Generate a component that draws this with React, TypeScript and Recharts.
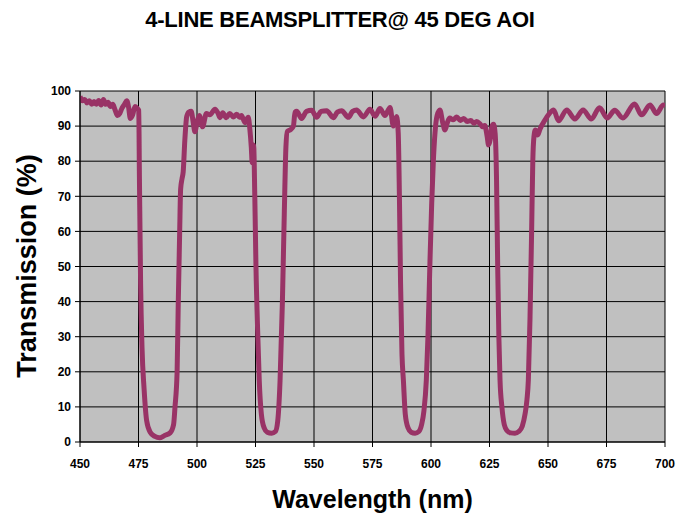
import React from 'react';
import { LineChart, Line, XAxis, YAxis, CartesianGrid } from 'recharts';

const wavelengths: number[] = [
  450, 451, 452, 453, 454, 455, 456, 457, 458, 459, 460, 461, 462, 463, 464, 465, 466, 467, 468, 469, 470,
  470.8, 471.5, 472.5, 473.5, 474.5, 475.1,
  475.4, 475.9, 476.5, 477.4, 478.5, 480, 482, 484, 486, 488.5, 490, 490.6, 491.5, 492, 492.6, 493, 493.6,
  494.1, 494.8, 495.6, 496.5, 497.5, 498.4, 499.1,
  500, 501, 502.4, 504, 505.5, 507.7, 509, 509.8, 511, 512.5, 514, 515.5, 517, 518.2, 519, 520.5, 521.9,
  522.6, 523.2, 523.6, 524.2,
  524.7, 525.2, 526, 526.6, 527.5, 528.7, 530, 531.9, 533.5, 534.5, 535.5, 536.5, 537.3, 538, 538.6, 540,
  541.2, 541.9,
  542.6, 544.7, 546.8, 549, 551.1, 553, 555.4, 558.3, 560, 561.8, 564.7, 566.5, 568.2, 571.1, 573.9, 576.1,
  578.2, 580.3, 582.5, 583.9, 585.3,
  586, 586.5, 587, 587.6, 588.2, 589, 590.2, 591.5, 593.2, 594.8, 596, 597, 598, 598.7, 599.5, 600.3, 601,
  601.7, 602.6, 603.8, 605, 606, 607, 608, 609.5, 611, 612.5, 614, 615.5, 617, 618.3, 619.5, 621, 622, 623,
  624, 624.6, 625.4, 626, 626.7, 627.4,
  628, 628.5, 629, 629.5, 630.3, 631.3, 632.5, 634, 635.9, 637.5, 639, 640.2, 641, 641.6, 642.3, 643, 643.5,
  644, 644.6, 645.6, 646.6, 648.5, 650.5, 652.4, 654.5, 658, 661.5, 665, 668.5, 672, 675.3, 678.5, 682, 687,
  690, 693.6, 696.4, 699.3, 700,
];

const transmission: number[] = [
  98.5, 97.2, 97.6, 96.6, 97.2, 96.2, 97.0, 96.2, 97.3, 96.0, 97.6, 96.2, 96.8, 95.6, 96.2, 94.6, 93.0, 93.6, 95.2, 96.2, 97.2,
  95.2, 92.2, 93.2, 95.6, 95.0, 94.5,
  75, 45, 27, 15, 6, 2.8, 1.6, 1.2, 1.8, 2.6, 5, 10, 20, 40, 60, 72, 75,
  77, 86, 92.7, 94, 94.2, 91, 88.4,
  91, 93, 89.8, 93.6, 93.2, 94.8, 93.6, 92.4, 93.8, 92.4, 93.6, 92.6, 93.4, 92.5, 93.0, 91.0, 92.5,
  89, 84, 79.5, 84.6,
  70, 50, 30, 17.6, 8, 4, 2.8, 2.5, 3, 6, 17.6, 40, 65, 84, 88.5, 89,
  90, 94,
  94.2, 92.2, 94.2, 94.5, 92.5, 94.2, 94.4, 92.4, 94.0, 94.4, 92.5, 94.2, 94.6, 92.6, 94.8, 92.8,
  95.0, 93.0, 95.3, 90.0, 92.7,
  88, 70, 45, 25, 17.6, 8, 4, 2.8, 2.5, 3, 5, 9, 17.6, 30, 50, 68, 80,
  88, 93, 94.6, 91, 88.9, 91, 92.3, 91.8, 92.6, 91.6, 92.2, 91.3, 91.6, 90.8, 91.3, 90.6, 89.8, 90.2,
  87, 84.6, 86.5, 89.8, 90.5, 88,
  75, 50, 30, 17.6, 10, 5, 3.2, 2.6, 2.5, 3, 4.5, 8, 12, 17.6, 35, 60, 80,
  87, 88.9, 87.5, 89.2, 91.5, 93.5, 94.6, 91.5, 94.6, 92.0, 94.6, 92.0, 95.2, 92.3, 94.5, 92.3, 96.3,
  93.2, 96, 93.6, 96, 95.5,
];

const xTicks: number[] = [450, 475, 500, 525, 550, 575, 600, 625, 650, 675, 700];
const yTicks: number[] = [0, 10, 20, 30, 40, 50, 60, 70, 80, 90, 100];

const titleText = '4-LINE BEAMSPLITTER@ 45 DEG AOI';
const xLabel = 'Wavelength (nm)';
const yLabel = 'Transmission (%)';

const data = wavelengths.map((w, i) => ({ w, t: transmission[i] }));

const FONT = '"Liberation Sans", Arial, sans-serif';

export default function App() {
  return (
    <div style={{ position: 'absolute', left: 0, top: 0, width: 687, height: 518, background: '#fff', fontFamily: FONT }}>
      <div
        style={{
          position: 'absolute',
          left: 0,
          width: 680,
          top: 7,
          textAlign: 'center',
          fontWeight: 'bold',
          fontSize: 22,
          letterSpacing: -0.25,
          lineHeight: '26px',
          color: '#000',
        }}
      >
        {titleText}
      </div>
      <LineChart
        width={687}
        height={518}
        data={data}
        margin={{ top: 91, right: 22, bottom: 46, left: 40 }}
      >
        <CartesianGrid
          fill="#C0C0C0"
          stroke="#000"
          strokeWidth={1}
          horizontalValues={yTicks}
          verticalValues={xTicks}
          fillOpacity={1}
        />
        <XAxis
          dataKey="w"
          type="number"
          domain={[450, 700]}
          ticks={xTicks}
          height={30}
          tickSize={5}
          tickMargin={12}
          axisLine={{ stroke: '#000' }}
          tickLine={{ stroke: '#000' }}
          tick={{ fill: '#000', fontSize: 12, fontWeight: 'bold', fontFamily: FONT }}
          allowDataOverflow
        />
        <YAxis
          type="number"
          domain={[0, 100]}
          ticks={yTicks}
          width={40}
          tickSize={5}
          tickMargin={4}
          axisLine={{ stroke: '#000' }}
          tickLine={{ stroke: '#000' }}
          tick={{ fill: '#000', fontSize: 12, fontWeight: 'bold', fontFamily: FONT }}
          allowDataOverflow
        />
        <Line
          dataKey="t"
          type="monotone"
          stroke="#993366"
          strokeWidth={5}
          dot={false}
          isAnimationActive={false}
        />
      </LineChart>
      <div
        style={{
          position: 'absolute',
          left: 80,
          width: 585,
          top: 484,
          textAlign: 'center',
          fontWeight: 'bold',
          fontSize: 25,
          lineHeight: '30px',
          color: '#000',
        }}
      >
        {xLabel}
      </div>
      <div
        style={{
          position: 'absolute',
          left: 27,
          top: 266,
          width: 300,
          marginLeft: -150,
          marginTop: -16,
          height: 32,
          textAlign: 'center',
          fontWeight: 'bold',
          fontSize: 27,
          lineHeight: '32px',
          color: '#000',
          transform: 'rotate(-90deg)',
        }}
      >
        {yLabel}
      </div>
    </div>
  );
}
